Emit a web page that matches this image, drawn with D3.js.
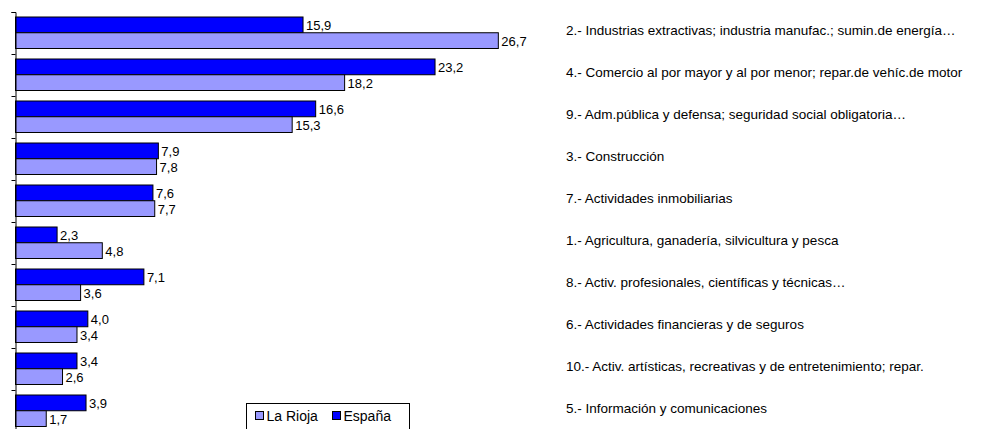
<!DOCTYPE html>
<html>
<head>
<meta charset="utf-8">
<script src="https://cdn.jsdelivr.net/npm/d3@7"></script>
<style>
  body { margin: 0; background: #fff; }
  svg { display: block; font-family: "Liberation Sans", Arial, sans-serif; }
</style>
</head>
<body>
<svg id="chart"></svg>
<script>
const categories = [
  '2.- Industrias extractivas; industria manufac.; sumin.de energía…',
  '4.- Comercio al por mayor y al por menor; repar.de vehíc.de motor',
  '9.- Adm.pública y defensa; seguridad social obligatoria…',
  '3.- Construcción',
  '7.- Actividades inmobiliarias',
  '1.- Agricultura, ganadería, silvicultura y pesca',
  '8.- Activ. profesionales, científicas y técnicas…',
  '6.- Actividades financieras y de seguros',
  '10.- Activ. artísticas, recreativas y de entretenimiento; repar.',
  '5.- Información y comunicaciones'
];
const espana = [15.9, 23.2, 16.6, 7.9, 7.6, 2.3, 7.1, 4.0, 3.4, 3.9];
const laRioja = [26.7, 18.2, 15.3, 7.8, 7.7, 4.8, 3.6, 3.4, 2.6, 1.7];
const seriesNames = ['España', 'La Rioja'];
const colors = {'España': '#0000ff', 'La Rioja': '#9999ff'};

const width = 992, height = 429;

const svg = d3.select('#chart')
  .attr('width', width)
  .attr('height', height);

const x = d3.scaleLinear().domain([0, 30]).range([15.5, 558]);

const y = d3.scaleBand()
  .domain(categories)
  .range([12, 432]);

// the two bars inside each category band
const ySub = d3.scaleBand()
  .domain(seriesNames)
  .range([5, 36.5]);

const fmt = v => d3.format('.1f')(v).replace('.', ',');

const rows = categories.map((c, i) => ({
  cat: c,
  vals: [{s: 'España', v: espana[i]}, {s: 'La Rioja', v: laRioja[i]}]
}));

const g = svg.selectAll('g.cat')
  .data(rows)
  .enter()
  .append('g')
  .attr('class', 'cat')
  .attr('transform', d => 'translate(0,' + y(d.cat) + ')');

g.selectAll('rect')
  .data(d => d.vals)
  .enter()
  .append('rect')
  .attr('x', x(0))
  .attr('y', d => ySub(d.s))
  .attr('width', d => x(d.v) - x(0))
  .attr('height', ySub.bandwidth())
  .attr('fill', d => colors[d.s])
  .attr('stroke', '#000')
  .attr('stroke-width', 1);

g.selectAll('text.val')
  .data(d => d.vals)
  .enter()
  .append('text')
  .attr('class', 'val')
  .attr('x', d => x(d.v) + 3)
  .attr('y', d => ySub(d.s) + ySub.bandwidth() - 3)
  .attr('font-size', 13)
  .attr('fill', '#000')
  .text(d => fmt(d.v));

// category names on the right
svg.selectAll('text.cat')
  .data(categories)
  .enter()
  .append('text')
  .attr('class', 'cat')
  .attr('x', 566)
  .attr('y', d => y(d) + 23)
  .attr('font-size', 13.5)
  .attr('fill', '#000')
  .text(d => d);

// axis line with ticks on category boundaries
const axis = d3.axisLeft(d3.scaleLinear().domain([0, categories.length]).range([12, 432]))
  .ticks(categories.length)
  .tickSize(4)
  .tickFormat('');

svg.append('g')
  .attr('transform', 'translate(15.5,0)')
  .call(axis)
  .call(a => a.select('.domain').attr('stroke', '#000'))
  .call(a => a.selectAll('.tick line').attr('stroke', '#000'));

// legend
const leg = svg.append('g').attr('transform', 'translate(246.5,403.5)');
leg.append('rect')
  .attr('width', 163)
  .attr('height', 40)
  .attr('fill', '#fff')
  .attr('stroke', '#000');

const legendItems = [
  {s: 'La Rioja', x: 9, tx: 20},
  {s: 'España', x: 86, tx: 97}
];
leg.selectAll('rect.key')
  .data(legendItems)
  .enter()
  .append('rect')
  .attr('class', 'key')
  .attr('x', d => d.x)
  .attr('y', 8)
  .attr('width', 8)
  .attr('height', 8)
  .attr('fill', d => colors[d.s])
  .attr('stroke', '#000');

leg.selectAll('text')
  .data(legendItems)
  .enter()
  .append('text')
  .attr('x', d => d.tx)
  .attr('y', 17.5)
  .attr('font-size', 14)
  .text(d => d.s);
</script>
</body>
</html>
